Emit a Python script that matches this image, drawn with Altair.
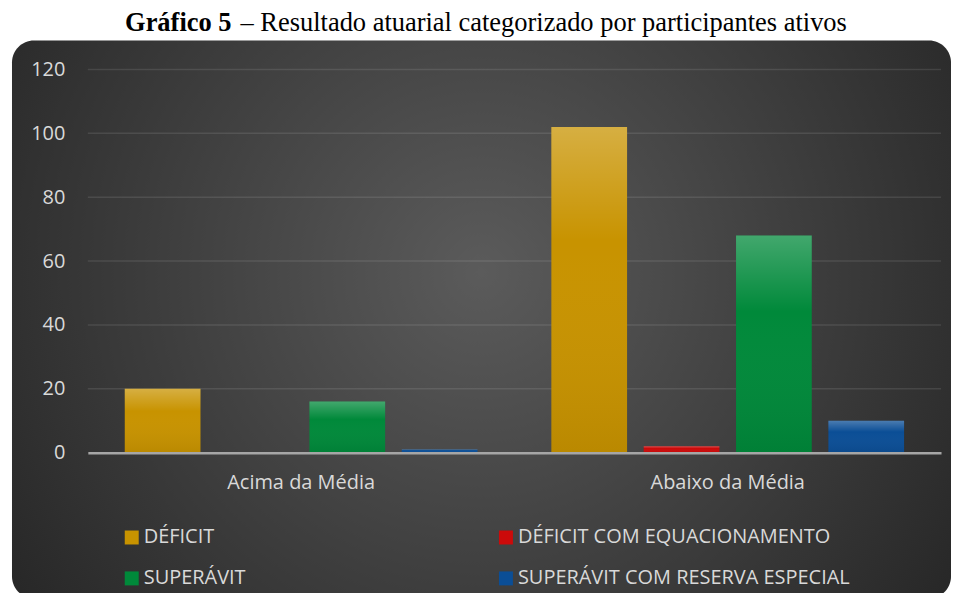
import altair as alt
import pandas as pd

categories = ["Acima da Média", "Abaixo da Média"]
series = ["DÉFICIT", "DÉFICIT COM EQUACIONAMENTO", "SUPERÁVIT", "SUPERÁVIT COM RESERVA ESPECIAL"]
deficit = [20, 102]
deficit_eq = [0, 2]
superavit = [16, 68]
superavit_res = [1, 10]
colors = ["#c89300", "#cc0a0a", "#00893a", "#0b4e96"]
y_ticks = [0, 20, 40, 60, 80, 100, 120]

rows = []
for s, vals in zip(series, [deficit, deficit_eq, superavit, superavit_res]):
    for c, v in zip(categories, vals):
        rows.append({"categoria": c, "serie": s, "valor": v})
df = pd.DataFrame(rows)
grid_df = pd.DataFrame({"valor": [t for t in y_ticks if t > 0]})

FONT = "Open Sans"
TXT = "#d9d9d9"

panel_fill = {
    "gradient": "radial",
    "x1": 0.5, "y1": 0.45, "r1": 0,
    "x2": 0.5, "y2": 0.45, "r2": 0.62,
    "stops": [
        {"offset": 0, "color": "#5b5b5b"},
        {"offset": 1, "color": "#262626"},
    ],
}

one = pd.DataFrame({"k": [0]})

panel = alt.Chart(one).mark_rect(cornerRadius=22, fill=panel_fill).encode(
    x=alt.value(-76), x2=alt.value(865), y=alt.value(-29), y2=alt.value(530)
)

y_axis = alt.Axis(
    title=None, values=y_ticks, ticks=False, domain=False, labelFont=FONT,
    labelFontSize=20, labelColor=TXT, labelPadding=23, grid=False, zindex=1,
)
y_scale = alt.Scale(domain=[0, 120], nice=False)

grid = alt.Chart(grid_df).mark_rule(color="#ffffff", opacity=0.1, strokeWidth=1.5).encode(
    y=alt.Y("valor:Q", scale=y_scale, axis=y_axis)
)

x_enc = alt.X(
    "categoria:N",
    sort=categories,
    scale=alt.Scale(paddingInner=0, paddingOuter=0),
    axis=alt.Axis(
        title=None, labelAngle=0, ticks=False, domain=True, domainColor="#a6a6a6",
        domainWidth=2.5, labelFont=FONT, labelFontSize=20, labelColor=TXT,
        labelPadding=20, grid=False, zindex=1,
    ),
)
xo_enc = alt.XOffset(
    "serie:N", sort=series, scale=alt.Scale(paddingInner=0.18, paddingOuter=0.4)
)
y_enc = alt.Y("valor:Q", scale=y_scale, axis=y_axis)

bars = alt.Chart(df).mark_bar().encode(
    x=x_enc,
    xOffset=xo_enc,
    y=y_enc,
    color=alt.Color(
        "serie:N",
        sort=series,
        scale=alt.Scale(domain=series, range=colors),
        legend=alt.Legend(
            title=None, orient="none", legendX=34, legendY=459, columns=2,
            direction="horizontal",
            columnPadding=250, rowPadding=21, symbolType="square", symbolSize=196,
            symbolStrokeWidth=0, labelFont=FONT, labelFontSize=20, labelColor=TXT,
            labelOffset=2, labelLimit=500, padding=0,
        ),
    ),
)

shine = {
    "gradient": "linear",
    "x1": 0, "y1": 0, "x2": 0, "y2": 1,
    "stops": [
        {"offset": 0, "color": "rgba(255,255,255,0.26)"},
        {"offset": 0.35, "color": "rgba(255,255,255,0)"},
        {"offset": 1, "color": "rgba(0,0,0,0.07)"},
    ],
}

overlay = alt.Chart(df).mark_bar(fill=shine).encode(
    x=alt.X("categoria:N", sort=categories),
    xOffset=alt.XOffset("serie:N", sort=series),
    y=alt.Y("valor:Q"),
)

title_bold = alt.Chart(one).mark_text(
    text="Gráfico 5", font="Liberation Serif", fontSize=26.5, fontWeight="bold",
    align="right", baseline="alphabetic", color="#000000",
).encode(x=alt.value(144), y=alt.value(-39))

title_reg = alt.Chart(one).mark_text(
    text="– Resultado atuarial categorizado por participantes ativos",
    font="Liberation Serif", fontSize=26.5, fontWeight="normal",
    align="left", baseline="alphabetic", color="#000000",
).encode(x=alt.value(153), y=alt.value(-39))

chart = alt.layer(panel, grid, bars, overlay, title_bold, title_reg).properties(
    width=855, height=384,
    autosize=alt.AutoSizeParams(type="none"),
    padding={"left": 80, "top": 61, "right": 10, "bottom": 140},
    background="#ffffff",
).configure_view(stroke=None)

chart.save("out.html", embed_options={"renderer": "svg", "actions": False})
